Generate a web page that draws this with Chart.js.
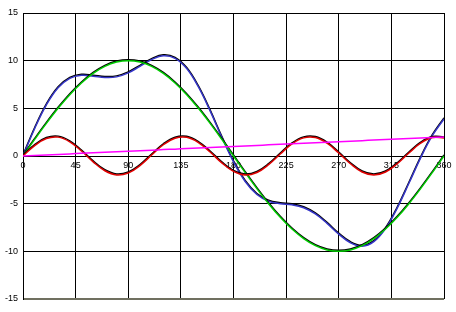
<!DOCTYPE html>
<html>
<head>
<meta charset="utf-8">
<script src="https://cdn.jsdelivr.net/npm/chart.js@4/dist/chart.umd.min.js"></script>
<style>
html,body{margin:0;padding:0;background:#fff;}
canvas{display:block;}
</style>
</head>
<body>
<canvas id="c" width="456" height="312"></canvas>
<script>
const xValues = [0,10,20,30,40,50,60,70,80,90,100,110,120,130,140,150,160,170,180,190,200,210,220,230,240,250,260,270,280,290,300,310,320,330,340,350,360];
const greenValues = [0,1.74,3.42,5.00,6.43,7.66,8.66,9.40,9.85,10,9.85,9.40,8.66,7.66,6.43,5.00,3.42,1.74,0,-1.74,-3.42,-5.00,-6.43,-7.66,-8.66,-9.40,-9.85,-10,-9.85,-9.40,-8.66,-7.66,-6.43,-5.00,-3.42,-1.74,0];
const redValues = [0,1.09,1.83,1.98,1.49,0.52,-0.62,-1.55,-1.99,-1.78,-1.00,0.10,1.18,1.87,1.96,1.41,0.42,-0.72,-1.62,-2.00,-1.73,-0.91,0.21,1.26,1.90,1.93,1.34,0.31,-0.81,-1.68,-2.00,-1.68,-0.81,0.31,1.34,1.93,1.90];
const magentaValues = [0,0.06,0.11,0.17,0.22,0.28,0.33,0.39,0.44,0.5,0.56,0.61,0.67,0.72,0.78,0.83,0.89,0.94,1.0,1.06,1.11,1.17,1.22,1.28,1.33,1.39,1.44,1.5,1.56,1.61,1.67,1.72,1.78,1.83,1.89,1.94,2.0];
const blueValues = [0,2.89,5.36,7.15,8.14,8.46,8.37,8.24,8.30,8.72,9.41,10.11,10.51,10.25,9.17,7.24,4.73,1.96,-0.62,-2.68,-4.04,-4.74,-5.00,-5.12,-5.43,-6.08,-7.07,-8.19,-9.10,-9.47,-8.99,-7.62,-5.46,-2.86,-0.19,2.13,3.90];
const xTicks = [0,45,90,135,180,225,270,315,360];
const yTicks = [-15,-10,-5,0,5,10,15];

const pts = arr => arr.map((y,i)=>({x:xValues[i], y:y}));

const shadowPlugin = {
  id:'shadow',
  beforeDatasetDraw(chart, args){
    const ds = chart.data.datasets[args.index];
    chart.ctx.save();
    if (ds.shadow){
      chart.ctx.shadowColor = '#000';
      chart.ctx.shadowOffsetX = 0;
      chart.ctx.shadowOffsetY = -1;
      chart.ctx.shadowBlur = 0;
    }
  },
  afterDatasetDraw(chart){ chart.ctx.restore(); }
};

new Chart(document.getElementById('c'), {
  type:'line',
  data:{
    datasets:[
      {data:pts(magentaValues), borderColor:'#ff00ff', borderWidth:1.5, shadow:false},
      {data:pts(redValues), borderColor:'#e00000', borderWidth:1.5, shadow:true},
      {data:pts(greenValues), borderColor:'#00cc00', borderWidth:1.5, shadow:true},
      {data:pts(blueValues), borderColor:'#3535c8', borderWidth:1.5, shadow:true}
    ]
  },
  options:{
    responsive:false,
    animation:false,
    events:[],
    layout:{padding:{top:13,right:12,bottom:13,left:0}},
    elements:{point:{radius:0}, line:{tension:0.4, fill:false}},
    plugins:{legend:{display:false}, tooltip:{enabled:false}},
    scales:{
      x:{
        type:'linear', min:0, max:360,
        position:{y:0},
        afterBuildTicks: s => { s.ticks = xTicks.map(v=>({value:v})); },
        grid:{color:'#000', lineWidth:1, drawTicks:false},
        border:{display:true, color:'#000', width:1},
        ticks:{color:'#000', font:{family:'Liberation Sans', size:9}, padding:4, maxRotation:0, autoSkip:false}
      },
      y:{
        min:-15, max:15,
        afterBuildTicks: s => { s.ticks = yTicks.map(v=>({value:v})); },
        afterFit: s => { s.width = 23; },
        grid:{color: c => c.tick && c.tick.value === -15 ? '#707060' : '#000', lineWidth: c => c.tick && c.tick.value === -15 ? 2 : 1, drawTicks:false},
        border:{display:true, color:'#000', width:1},
        ticks:{color:'#000', font:{family:'Liberation Sans', size:9}, padding:5}
      }
    }
  },
  plugins:[shadowPlugin]
});
</script>
</body>
</html>
